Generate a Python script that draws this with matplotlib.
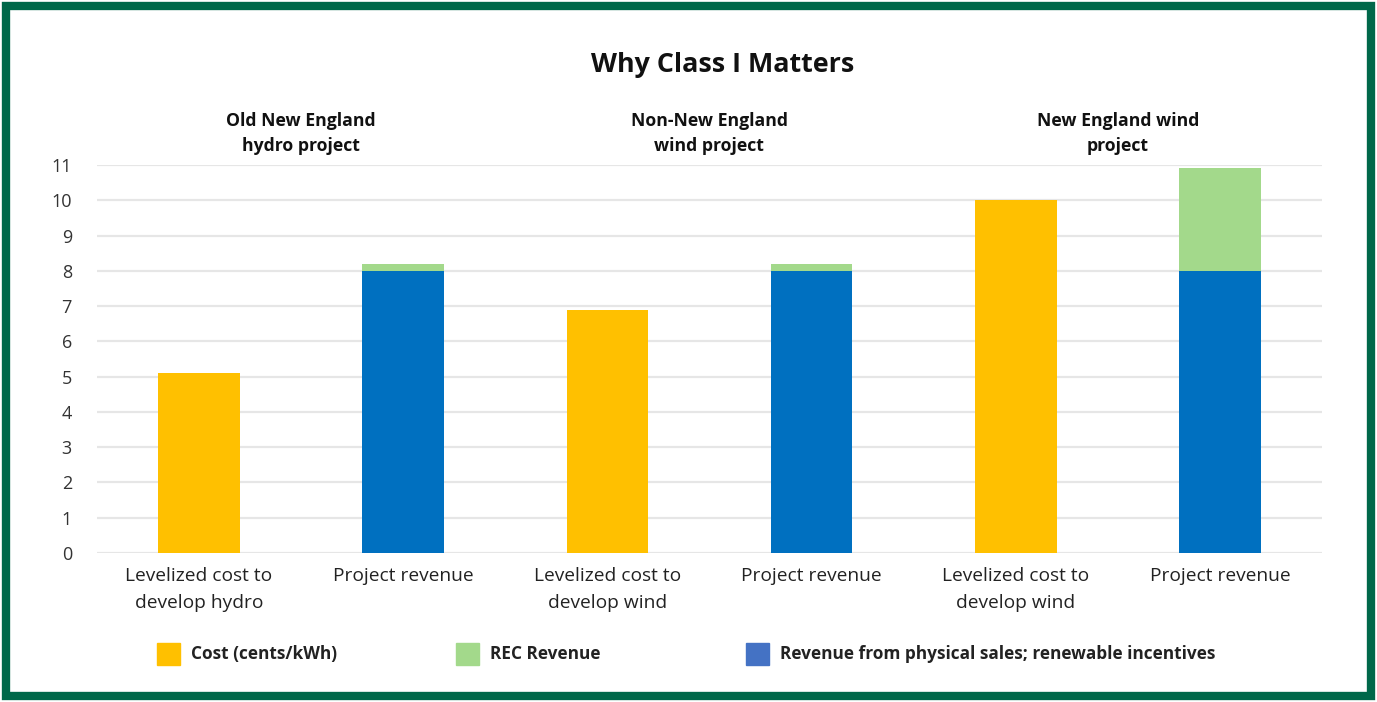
import matplotlib.pyplot as plt
from matplotlib.patches import Rectangle

# data
categories = ['Levelized cost to\ndevelop hydro', 'Project revenue',
              'Levelized cost to\ndevelop wind', 'Project revenue',
              'Levelized cost to\ndevelop wind', 'Project revenue']
cost = [5.1, 0, 6.9, 0, 10.0, 0]
physical = [0, 8.0, 0, 8.0, 0, 8.0]
rec = [0, 0.2, 0, 0.2, 0, 2.9]
groups = ['Old New England\nhydro project', 'Non-New England\nwind project',
          'New England wind\nproject']
legend_labels = ['Cost (cents/kWh)', 'REC Revenue',
                 'Revenue from physical sales; renewable incentives']

c_cost = '#FFC000'
c_rec = '#A3D98B'
c_phys = '#0070C0'
c_phys_leg = '#4472C4'
border = '#00684A'

plt.rcParams['font.family'] = ['Open Sans', 'DejaVu Sans']

fig = plt.figure(figsize=(13.77, 7.02), dpi=100)
fig.patches.append(Rectangle((0.0045, 0.0085), 0.991, 0.983, transform=fig.transFigure,
                             fill=False, edgecolor=border, linewidth=6))

ax = fig.add_axes([0.0704, 0.2123, 0.8896, 0.5527])
x = list(range(len(categories)))
w = 0.4
ax.bar(x, cost, width=w, color=c_cost, zorder=3)
ax.bar(x, physical, width=w, color=c_phys, zorder=3)
ax.bar(x, rec, width=w, bottom=physical, color=c_rec, zorder=3)

ax.set_xlim(-0.5, len(categories) - 0.5)
ax.set_ylim(0, 11)
ax.set_yticks(range(0, 12))
ax.set_xticks(x)
ax.set_xticklabels(categories, fontsize=13.8, linespacing=1.62, color='#222222')
ax.tick_params(axis='y', length=0, pad=18, labelsize=13, labelcolor='#333333')
ax.tick_params(axis='x', length=0, pad=10)
ax.grid(axis='y', color='#E6E6E6', linewidth=1.6, zorder=0)
for s in ax.spines.values():
    s.set_visible(False)

for i, g in enumerate(groups):
    ax.text(2 * i + 0.5, 1.081, g, transform=ax.get_xaxis_transform(),
            ha='center', va='center', fontsize=12.7, fontweight='bold',
            linespacing=1.45, color='#111111')

fig.text(0.525, 0.908, 'Why Class I Matters', ha='center', va='center',
         fontsize=19.4, fontweight='bold', color='#111111')

# legend drawn by hand
leg_x = [0.114, 0.331, 0.542]
leg_colors = [c_cost, c_rec, c_phys_leg]
for lx, lc, lt in zip(leg_x, leg_colors, legend_labels):
    fig.patches.append(Rectangle((lx, 0.053), 0.0165, 0.031,
                                 transform=fig.transFigure, color=lc))
    fig.text(lx + 0.0245, 0.069, lt, ha='left', va='center', fontsize=12.4,
             fontweight='bold', color='#222222')

fig.savefig('out.png', dpi=100)
